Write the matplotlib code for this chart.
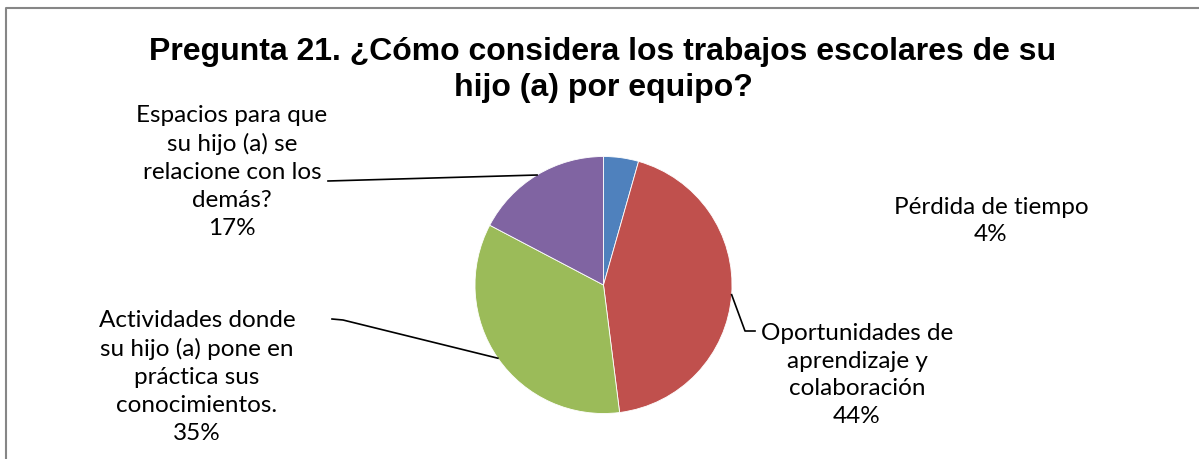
import numpy as np
import matplotlib.pyplot as plt

# data
labels = ["Pérdida de tiempo",
          "Oportunidades de\naprendizaje y\ncolaboración",
          "Actividades donde\nsu hijo (a) pone en\npráctica sus\nconocimientos.",
          "Espacios para que\nsu hijo (a) se\nrelacione con los\ndemás?"]
values = [4.4, 43.6, 34.7, 17.3]
colors = ["#4F81BD", "#C0504D", "#9BBB59", "#8064A2"]
title = "Pregunta 21. ¿Cómo considera los trabajos escolares de su\nhijo (a) por equipo?"

W, H = 1199, 460
fig = plt.figure(figsize=(W / 100, H / 100), dpi=100)
ax = fig.add_axes([0, 0, 1, 1])

cx, cy, r = 603.5, H - 286, 128.5
wedges, _ = ax.pie(values, colors=colors, startangle=90, counterclock=False,
                   center=(cx, cy), radius=r,
                   wedgeprops=dict(linewidth=0.6, edgecolor="white"))
ax.set_xlim(0, W)
ax.set_ylim(0, H)
ax.axis("off")

# chart border (only top and left edges fall inside the picture)
ax.plot([6, 6, W + 10], [-10, H - 9, H - 9], color="#868686", linewidth=1.5,
        zorder=0, clip_on=False)

ax.text(603, H - 70, title, ha="center", va="center", fontsize=23,
        fontweight="bold", family="Liberation Sans", linespacing=1.3)

# label positions: text center, elbow points (None = no leader)
label_pos = [(991, H - 221, None),
             (857, H - 375, [(755, H - 332), (745, H - 332)]),
             (197, H - 377, [(332, H - 320), (343, H - 321)]),
             (232, H - 172, [(328, H - 182)])]

for w, lab, v, (tx, ty, elbow) in zip(wedges, labels, values, label_pos):
    ax.text(tx, ty, f"{lab}\n{v:.0f}%", ha="center", va="center",
            fontsize=17.5, family="Lato", linespacing=1.4)
    if elbow is not None:
        ang = np.deg2rad((w.theta1 + w.theta2) / 2)
        px, py = cx + r * np.cos(ang), cy + r * np.sin(ang)
        xs = [p[0] for p in elbow] + [px]
        ys = [p[1] for p in elbow] + [py]
        ax.plot(xs, ys, color="black", linewidth=1.2)

fig.savefig("out.png", dpi=100)
